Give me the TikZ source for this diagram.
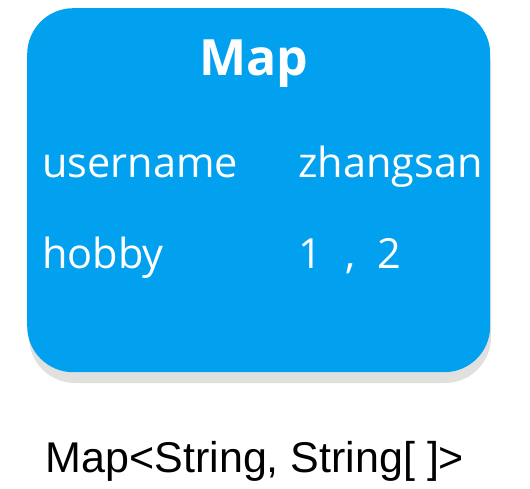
\documentclass[tikz,border=0pt]{standalone}
\usepackage{fontspec}
\setmainfont{Open Sans}
\newfontfamily\arialf{Liberation Sans}
\definecolor{mapblue}{RGB}{2,161,239}
\definecolor{shadowgray}{RGB}{224,224,222}
\begin{document}
\begin{tikzpicture}[x=1pt,y=-1pt,
  lbl/.style={anchor=base west,inner sep=0pt,text=white,font=\fontsize{41.5}{46}\selectfont},
  ]
\useasboundingbox (0,0) rectangle (530,488);
\fill[white] (0,0) rectangle (530,488);
\fill[shadowgray,rounded corners=46pt] (29,19) rectangle (491,383);
\node[fill=mapblue,rounded corners=46pt,minimum width=463pt,minimum height=364pt,inner sep=0pt,anchor=north west] (box) at (27,8) {};
\node[anchor=base,inner sep=0pt,text=white,font=\fontsize{50}{56}\selectfont\bfseries] (title) at (254,75) {Map};
\node[lbl] (k1) at (42,177) {username};
\node[lbl] (v1) at (298,177) {zhangsan};
\node[lbl] (k2) at (42,268) {hobby};
\node[lbl] (v2) at (298,268) {1\hspace{24pt},\hspace{21pt}2};
\node[anchor=base,inner sep=0pt,font=\arialf\fontsize{43}{48}\selectfont] (cap) at (255,472) {Map<String, String[ ]>};
\end{tikzpicture}
\end{document}
